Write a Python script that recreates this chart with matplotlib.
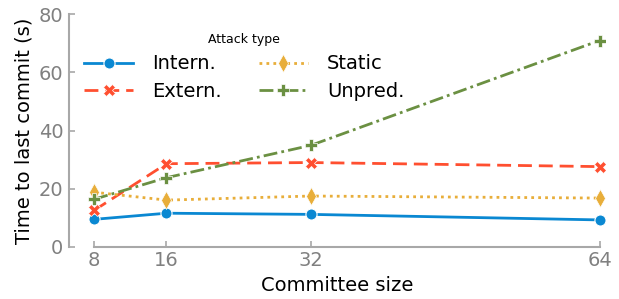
import matplotlib
matplotlib.use("Agg")
import matplotlib.pyplot as plt

# committee sizes and time to last commit (s) per attack type
sizes = [8, 16, 32, 64]
intern = [9.5, 11.6, 11.2, 9.3]
extern = [12.6, 28.6, 29.0, 27.6]
static = [18.8, 16.1, 17.5, 16.8]
unpred = [16.4, 23.8, 34.9, 70.9]

fig = plt.figure(figsize=(6.19, 2.99), dpi=100)
ax = fig.add_axes([69 / 619, 52 / 299, 536 / 619, 233 / 299])

ax.plot(sizes, intern, color="#0a88d2", label="Intern.", lw=2, ls="-",
        marker="o", ms=8, mec="white", mew=0.8)
ax.plot(sizes, extern, color="#ff4f30", label="Extern.", lw=2, ls=(0, (5, 2.5)),
        marker="X", ms=8, mec="white", mew=0.5)
ax.plot(sizes, static, color="#e8ae3a", label="Static", lw=2, ls=(0, (1, 1.5)),
        marker="d", ms=9, mec="white", mew=0.5)
ax.plot(sizes, unpred, color="#6b9042", label="Unpred.", lw=2, ls=(0, (5, 1.5, 1, 1.5)),
        marker="P", ms=8, mec="white", mew=0.5)

ax.set_xlim(5.2, 64.6)
ax.set_ylim(0, 80)
ax.set_xticks(sizes)
ax.set_yticks([0, 20, 40, 60, 80])

for s in ["top", "right"]:
    ax.spines[s].set_visible(False)
ax.spines["left"].set_bounds(0, 80)
ax.spines["bottom"].set_bounds(8, 64)
for s in ["left", "bottom"]:
    ax.spines[s].set_color("#a8a8a8")
    ax.spines[s].set_linewidth(1.5)
ax.tick_params(direction="in", colors="#a8a8a8", labelcolor="#808080",
               labelsize=14, width=1.2, length=4)
ax.tick_params(axis="x", pad=3)
ax.tick_params(axis="y", pad=4)

ax.set_xlabel("Committee size", fontsize=14, labelpad=4)
ax.set_ylabel("Time to last commit (s)", fontsize=14, labelpad=4)

leg = ax.legend(ncol=2, frameon=False, title="Attack type", fontsize=14,
                title_fontsize=9, loc="upper left", bbox_to_anchor=(-0.004, 0.995),
                handlelength=2.5, handletextpad=1.0, columnspacing=1.9,
                labelspacing=0.45)

fig.savefig("out.png", dpi=100)
